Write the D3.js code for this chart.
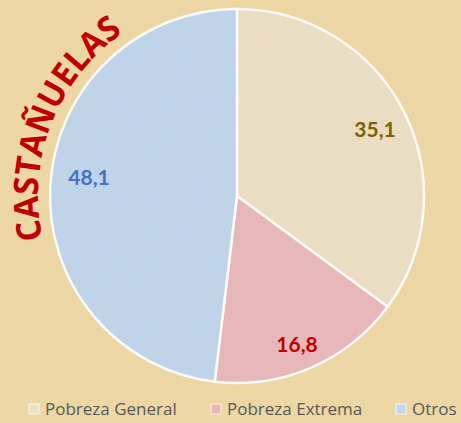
<!DOCTYPE html>
<html>
<head>
<meta charset="utf-8">
<script src="https://cdn.jsdelivr.net/npm/d3@7"></script>
<style>
  body { margin: 0; background: #efd9a5; }
  svg { display: block; }
</style>
</head>
<body>
<div id="chart"></div>
<script>
// chart size
var chart_width  = 461;
var chart_height = 423;

// data
var categories = ["Pobreza General", "Pobreza Extrema", "Otros"];
var values     = [35.1, 16.8, 48.1];
var labels     = ["35,1", "16,8", "48,1"];
var title      = "CASTAÑUELAS";

var fills      = ["#ece0c6", "#e9b7bb", "#bfd6ee"];
var labelCols  = ["#7f6000", "#c00000", "#4472c4"];

var cx = 237, cy = 196, radius = 187;

var svg = d3.select("#chart")
  .append("svg")
  .attr("width", chart_width)
  .attr("height", chart_height);

// paper texture
var defs = svg.append("defs");
var f = defs.append("filter").attr("id", "paper")
  .attr("x", 0).attr("y", 0).attr("width", "100%").attr("height", "100%");
f.append("feTurbulence").attr("type", "fractalNoise")
  .attr("baseFrequency", 0.6).attr("numOctaves", 2).attr("seed", 3);
f.append("feColorMatrix").attr("type", "matrix")
  .attr("values", "0 0 0 0 0.55  0 0 0 0 0.45  0 0 0 0 0.3  0 0 0 0.12 0");
f.append("feComposite").attr("in2", "SourceGraphic").attr("operator", "in");

svg.append("rect")
  .attr("width", chart_width).attr("height", chart_height)
  .attr("fill", "#efd9a5");

// pie
var pie = d3.pie().sort(null).value(function(d){ return d; });
var arc = d3.arc().innerRadius(0).outerRadius(radius);

var g = svg.append("g").attr("transform", "translate(" + cx + "," + cy + ")");

var arcs = pie(values);

g.selectAll("path.slice")
  .data(arcs)
  .enter()
  .append("path")
  .attr("class", "slice")
  .attr("d", arc)
  .attr("fill", function(d, i){ return fills[i]; })
  .attr("stroke", "#fff")
  .attr("stroke-width", 2.5);

// noise overlay over everything
svg.append("rect")
  .attr("width", chart_width).attr("height", chart_height)
  .attr("fill", "#fff")
  .attr("filter", "url(#paper)")
  .attr("pointer-events", "none");

// value labels, placed by hand inside each slice
var lg = svg.append("g").attr("transform", "translate(" + cx + "," + cy + ")");
var labelPos = [[138, -68], [60, 147], [-148, -20]];
lg.selectAll("text.val")
  .data(arcs)
  .enter()
  .append("text")
  .attr("class", "val")
  .attr("x", function(d, i){ return labelPos[i][0]; })
  .attr("y", function(d, i){ return labelPos[i][1]; })
  .attr("text-anchor", "middle")
  .attr("dominant-baseline", "central")
  .attr("font-family", "Lato, 'Open Sans', sans-serif")
  .attr("font-weight", "bold")
  .attr("font-size", 21)
  .attr("fill", function(d, i){ return labelCols[i]; })
  .text(function(d, i){ return labels[i]; });

// curved title
var tr = radius + 12;
var a0 = 257.5 * Math.PI / 180, a1 = 325 * Math.PI / 180;
var titleArc = d3.path();
titleArc.arc(cx, cy, tr, a0 - Math.PI / 2, a1 - Math.PI / 2, false);
defs.append("path").attr("id", "titlePath").attr("d", titleArc.toString());

svg.append("text")
  .attr("font-family", "'Open Sans', Lato, sans-serif")
  .attr("font-weight", "bold")
  .attr("font-size", 34)
  .attr("fill", "#c00000")
  .append("textPath")
  .attr("href", "#titlePath")
  .attr("textLength", tr * (a1 - a0))
  .attr("lengthAdjust", "spacingAndGlyphs")
  .text(title);

// legend
var legendX = [29, 211, 396];
var legend = svg.append("g");
legend.selectAll("rect")
  .data(categories)
  .enter()
  .append("rect")
  .attr("x", function(d, i){ return legendX[i]; })
  .attr("y", 404)
  .attr("width", 10).attr("height", 10)
  .attr("fill", function(d, i){ return fills[i]; })
  .attr("stroke", "#fff").attr("stroke-width", 0.8);

legend.selectAll("text")
  .data(categories)
  .enter()
  .append("text")
  .attr("x", function(d, i){ return legendX[i] + 16; })
  .attr("y", 415)
  .attr("font-family", "'Open Sans', sans-serif")
  .attr("font-size", 17)
  .attr("fill", "#595959")
  .text(function(d){ return d; });
</script>
</body>
</html>
